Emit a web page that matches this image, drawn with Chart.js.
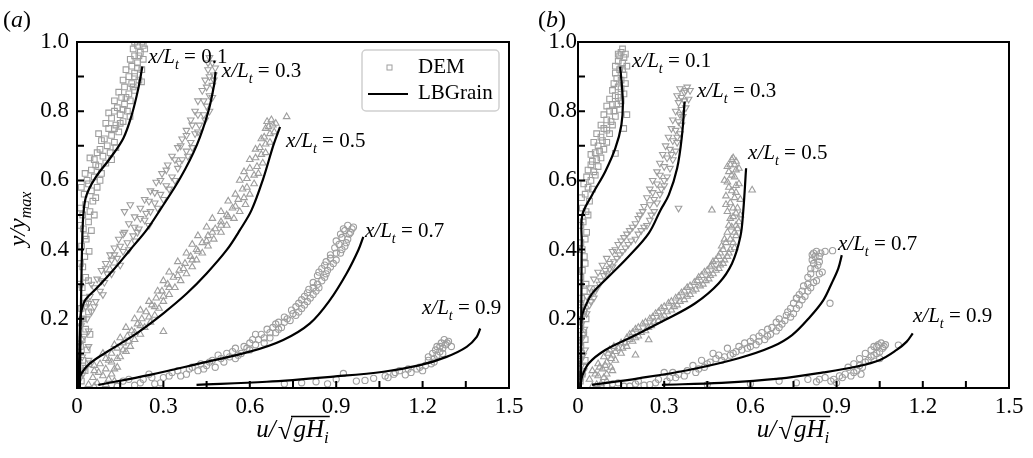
<!DOCTYPE html>
<html>
<head>
<meta charset="utf-8">
<script src="https://cdn.jsdelivr.net/npm/chart.js@4.4.1/dist/chart.umd.min.js"></script>
<style>
  body { margin: 0; background: #fff; }
  #wrap { position: relative; width: 1033px; height: 458px; }
  canvas { position: absolute; top: 0; }
  #chartA { left: 0; }
  #chartB { left: 516px; }
</style>
</head>
<body>
<div id="wrap">
  <canvas id="chartA" width="530" height="458" style="width:530px;height:458px"></canvas>
  <canvas id="chartB" width="517" height="458" style="width:517px;height:458px"></canvas>
</div>
<script>
// axis ticks
var xTickValues = [0, 0.3, 0.6, 0.9, 1.2, 1.5];
var xMinorValues = [0.15, 0.45, 0.75, 1.05, 1.35];
var yTickValues = [0, 0.2, 0.4, 0.6, 0.8, 1.0];
var yMinorValues = [0.1, 0.3, 0.5, 0.7, 0.9];

// stations x/L_t
var stations = ['0.1', '0.3', '0.5', '0.7', '0.9'];

// ---- panel (a): DEM points [u, y/ymax] ----
var demA01 = [[0.015,0.02],[0.028,0.05],[0.02,0.08],[0.035,0.11],[0.018,0.14],[0.03,0.17],[0.022,0.2],[0.014,0.23],[0.026,0.26],[0.018,0.29],[0.03,0.32],[0.02,0.35],[0.027,0.38],[0.016,0.41],[0.032,0.43],[0.022,0.46],[0.04,0.48],
  [0.02,0.5],[0.045,0.51],[0.03,0.53],[0.055,0.54],[0.025,0.56],[0.05,0.57],[0.07,0.58],[0.04,0.59],[0.06,0.61],[0.085,0.62],[0.05,0.63],
  [0.075,0.64],[0.1,0.65],[0.06,0.66],[0.09,0.67],[0.115,0.68],[0.08,0.69],[0.105,0.7],[0.13,0.71],[0.095,0.72],[0.12,0.73],[0.145,0.74],[0.11,0.75],
  [0.135,0.76],[0.16,0.77],[0.12,0.78],[0.15,0.79],[0.175,0.8],[0.14,0.81],[0.165,0.82],[0.185,0.83],[0.155,0.84],[0.18,0.85],[0.2,0.86],[0.165,0.87],[0.19,0.88],
  [0.215,0.89],[0.18,0.9],[0.2,0.91],[0.225,0.92],[0.19,0.93],[0.21,0.94],[0.23,0.95],[0.2,0.96],[0.22,0.97],[0.235,0.98],[0.21,0.99],[0.225,1.0],[0.184,0.785],[0.224,0.885],
  [0.01,0.04],[0.04,0.07],[0.012,0.12],[0.045,0.155],[0.01,0.19],[0.04,0.22],[0.03,0.245],[0.01,0.3],[0.04,0.31],[0.012,0.36],[0.042,0.395],[0.028,0.44],[0.05,0.455],[0.012,0.47],[0.06,0.5],[0.012,0.52],[0.065,0.55],[0.015,0.58],[0.035,0.6],[0.08,0.6],[0.028,0.62],[0.065,0.645],[0.045,0.665],[0.12,0.66],[0.07,0.68],[0.135,0.695],[0.085,0.715],[0.075,0.735],[0.13,0.75],[0.1,0.765],[0.15,0.765],[0.11,0.795],[0.13,0.8],[0.16,0.805],[0.13,0.83],[0.17,0.84],[0.145,0.855],[0.195,0.87],[0.16,0.89],[0.2,0.9],[0.17,0.92],[0.21,0.925],[0.185,0.95],[0.215,0.96],[0.195,0.98],[0.23,0.99],[0.2,1.0]];
var demA03 = [[0.012,0.03],[0.03,0.06],[0.018,0.09],[0.04,0.12],[0.025,0.15],[0.014,0.18],[0.035,0.2],[0.05,0.22],[0.03,0.235],[0.065,0.25],[0.045,0.265],[0.08,0.28],[0.06,0.29],[0.095,0.305],[0.07,0.315],[0.105,0.33],[0.085,0.34],[0.125,0.35],[0.1,0.36],[0.14,0.375],[0.115,0.385],[0.16,0.395],[0.13,0.405],[0.175,0.42],[0.145,0.43],[0.195,0.44],[0.165,0.45],[0.215,0.46],[0.18,0.475],[0.235,0.485],[0.2,0.495],[0.255,0.51],[0.22,0.52],[0.27,0.535],[0.235,0.545],[0.29,0.56],[0.255,0.57],[0.31,0.585],[0.275,0.595],[0.33,0.61],[0.295,0.62],[0.35,0.635],[0.315,0.645],[0.365,0.66],[0.33,0.67],[0.38,0.685],[0.35,0.695],[0.395,0.71],[0.365,0.72],[0.41,0.735],[0.38,0.745],[0.425,0.76],[0.395,0.775],[0.44,0.79],[0.41,0.8],[0.45,0.815],[0.42,0.83],[0.46,0.845],[0.435,0.86],[0.47,0.875],[0.445,0.89],[0.475,0.905],[0.455,0.92],[0.47,0.94],[0.46,0.955],[0.165,0.51],[0.185,0.53],
  [0.02,0.04],[0.04,0.08],[0.01,0.13],[0.04,0.165],[0.02,0.2],[0.06,0.235],[0.04,0.245],[0.09,0.27],[0.05,0.3],[0.085,0.31],[0.12,0.33],[0.1,0.345],[0.15,0.355],[0.12,0.37],[0.13,0.385],[0.18,0.4],[0.15,0.41],[0.2,0.425],[0.16,0.445],[0.21,0.45],[0.2,0.465],[0.25,0.47],[0.22,0.49],[0.24,0.505],[0.28,0.52],[0.25,0.54],[0.3,0.545],[0.27,0.565],[0.32,0.575],[0.29,0.6],[0.34,0.6],[0.31,0.63],[0.355,0.65],[0.34,0.66],[0.385,0.67],[0.36,0.7],[0.4,0.695],[0.38,0.73],[0.42,0.74],[0.4,0.76],[0.445,0.775],[0.42,0.79],[0.46,0.8],[0.44,0.83],[0.47,0.84],[0.45,0.87],[0.475,0.89],[0.46,0.9],[0.48,0.925],[0.455,0.94]];
var demA05 = [[0.04,0.01],[0.07,0.015],[0.1,0.01],[0.13,0.02],[0.055,0.03],[0.09,0.035],[0.12,0.04],[0.06,0.05],[0.1,0.055],[0.14,0.06],[0.08,0.07],[0.12,0.075],[0.1,0.085],[0.15,0.09],[0.12,0.1],[0.17,0.105],[0.14,0.115],[0.185,0.12],[0.16,0.13],[0.2,0.14],[0.175,0.15],[0.22,0.155],[0.19,0.165],[0.235,0.175],[0.21,0.185],[0.255,0.19],[0.225,0.2],[0.27,0.21],[0.24,0.22],[0.285,0.23],[0.26,0.24],[0.3,0.25],[0.275,0.26],[0.32,0.27],[0.295,0.28],[0.34,0.29],[0.315,0.3],[0.36,0.31],[0.335,0.32],[0.38,0.33],[0.355,0.34],[0.4,0.35],[0.375,0.36],[0.415,0.37],[0.395,0.38],[0.435,0.39],[0.415,0.4],[0.455,0.41],[0.435,0.42],[0.475,0.43],[0.455,0.44],[0.5,0.45],[0.48,0.46],[0.52,0.47],[0.5,0.48],[0.545,0.49],[0.52,0.5],[0.565,0.51],[0.54,0.52],[0.585,0.53],[0.56,0.545],[0.6,0.56],[0.575,0.575],[0.615,0.59],[0.59,0.605],[0.63,0.62],[0.6,0.635],[0.645,0.65],[0.62,0.665],[0.655,0.68],[0.635,0.695],[0.67,0.71],[0.65,0.725],[0.685,0.74],[0.665,0.755],[0.69,0.765],[0.675,0.775],[0.728,0.784],[0.3,0.163],
  [0.06,0.005],[0.11,0.025],[0.075,0.045],[0.13,0.055],[0.06,0.065],[0.11,0.08],[0.14,0.085],[0.09,0.1],[0.16,0.11],[0.13,0.125],[0.18,0.135],[0.15,0.145],[0.2,0.16],[0.17,0.175],[0.22,0.18],[0.2,0.2],[0.25,0.205],[0.22,0.225],[0.27,0.235],[0.25,0.25],[0.3,0.265],[0.28,0.28],[0.32,0.29],[0.3,0.31],[0.35,0.325],[0.32,0.335],[0.37,0.345],[0.35,0.365],[0.4,0.37],[0.38,0.39],[0.42,0.395],[0.4,0.415],[0.45,0.425],[0.42,0.44],[0.47,0.45],[0.45,0.465],[0.5,0.47],[0.47,0.49],[0.525,0.495],[0.5,0.51],[0.55,0.525],[0.525,0.54],[0.58,0.55],[0.55,0.56],[0.59,0.58],[0.565,0.6],[0.615,0.615],[0.58,0.625],[0.625,0.64],[0.6,0.66],[0.64,0.675],[0.62,0.69],[0.655,0.705],[0.64,0.72],[0.67,0.735],[0.655,0.75],[0.68,0.76],[0.66,0.77]];
var demA07 = [[0.12,0.01],[0.16,0.02],[0.2,0.008],[0.23,0.025],[0.27,0.012],[0.3,0.03],[0.25,0.04],[0.33,0.045],[0.36,0.035],[0.39,0.055],[0.42,0.05],[0.45,0.065],[0.48,0.06],[0.47,0.08],[0.51,0.075],[0.53,0.09],[0.55,0.085],[0.57,0.1],[0.54,0.105],[0.6,0.11],[0.58,0.12],[0.62,0.125],[0.65,0.13],[0.61,0.14],[0.67,0.145],[0.64,0.155],[0.69,0.16],[0.66,0.17],[0.71,0.175],[0.7,0.19],[0.74,0.195],[0.72,0.205],[0.76,0.21],[0.745,0.225],[0.78,0.23],[0.77,0.245],[0.8,0.25],[0.79,0.265],[0.82,0.27],[0.805,0.285],[0.84,0.29],[0.82,0.305],[0.85,0.31],[0.835,0.325],[0.865,0.33],[0.85,0.345],[0.88,0.35],[0.865,0.365],[0.9,0.37],[0.88,0.385],[0.915,0.39],[0.895,0.405],[0.93,0.41],[0.9,0.425],[0.94,0.43],[0.915,0.445],[0.95,0.45],[0.925,0.46],[0.96,0.465],[0.94,0.47],
  [0.14,0.005],[0.18,0.025],[0.22,0.015],[0.26,0.03],[0.29,0.015],[0.32,0.035],[0.35,0.05],[0.38,0.04],[0.4,0.06],[0.44,0.055],[0.43,0.07],[0.46,0.075],[0.5,0.085],[0.49,0.095],[0.52,0.1],[0.56,0.095],[0.55,0.115],[0.59,0.115],[0.6,0.13],[0.63,0.14],[0.65,0.145],[0.62,0.155],[0.67,0.16],[0.68,0.175],[0.7,0.17],[0.69,0.185],[0.72,0.19],[0.73,0.2],[0.75,0.215],[0.77,0.22],[0.76,0.235],[0.79,0.24],[0.78,0.255],[0.81,0.26],[0.8,0.275],[0.83,0.28],[0.82,0.29],[0.835,0.3],[0.86,0.32],[0.84,0.335],[0.87,0.34],[0.86,0.355],[0.89,0.36],[0.88,0.375],[0.9,0.39],[0.92,0.4],[0.91,0.415],[0.935,0.42],[0.92,0.435],[0.945,0.445],[0.93,0.455],[0.955,0.46]];
var demA09 = [[0.72,0.012],[0.78,0.015],[0.83,0.018],[0.87,0.012],[0.9,0.025],[0.925,0.042],[0.97,0.02],[1.0,0.022],[1.03,0.028],[1.07,0.035],[1.1,0.04],[1.12,0.05],[1.14,0.038],[1.16,0.045],[1.18,0.055],[1.2,0.05],[1.21,0.065],[1.23,0.07],[1.22,0.08],[1.24,0.085],[1.25,0.095],[1.235,0.1],[1.26,0.105],[1.27,0.115],[1.25,0.12],[1.28,0.125],[1.265,0.13],[1.29,0.135],[1.275,0.14],[1.3,0.12],
  [1.15,0.055],[1.19,0.06],[1.22,0.09],[1.245,0.11],[1.26,0.12],[1.285,0.13],[1.24,0.075],[1.27,0.1],[1.105,0.045],[1.08,0.03]];

// ---- panel (a): LBGrain profiles ----
var lbgA01 = [[0.01,0],[0.012,0.15],[0.015,0.3],[0.018,0.42],[0.022,0.5],[0.032,0.555],[0.0625,0.606],[0.115,0.664],[0.161,0.722],[0.19,0.789],[0.213,0.866],[0.227,0.929]];
var lbgA03 = [[0.005,0],[0.008,0.1],[0.011,0.19],[0.016,0.225],[0.03,0.256],[0.068,0.288],[0.126,0.341],[0.184,0.399],[0.242,0.457],[0.288,0.514],[0.358,0.606],[0.416,0.702],[0.456,0.799],[0.476,0.876],[0.481,0.914]];
var lbgA05 = [[0.005,0],[0.01,0.033],[0.045,0.071],[0.115,0.11],[0.207,0.158],[0.3,0.216],[0.381,0.273],[0.45,0.331],[0.52,0.399],[0.566,0.457],[0.606,0.514],[0.647,0.606],[0.682,0.702],[0.705,0.755]];
var lbgA07 = [[0.074,0.009],[0.253,0.038],[0.427,0.071],[0.6,0.105],[0.716,0.139],[0.809,0.187],[0.878,0.254],[0.936,0.331],[0.977,0.399],[0.994,0.437]];
var lbgA09 = [[0.415,0.009],[0.659,0.018],[0.89,0.033],[1.064,0.047],[1.191,0.066],[1.283,0.09],[1.353,0.119],[1.388,0.148],[1.4,0.172]];

// ---- panel (b): DEM points ----
var demB01 = [[0.008,0.02],[0.02,0.06],[0.012,0.1],[0.025,0.14],[0.01,0.18],[0.02,0.22],[0.012,0.26],[0.028,0.3],[0.015,0.34],[0.022,0.38],[0.01,0.42],[0.03,0.45],[0.018,0.48],[0.035,0.5],[0.015,0.52],[0.04,0.54],[0.025,0.56],[0.05,0.575],[0.02,0.59],[0.045,0.6],[0.06,0.615],[0.035,0.63],[0.07,0.64],[0.05,0.655],[0.08,0.665],[0.06,0.68],[0.09,0.69],[0.07,0.7],[0.1,0.71],[0.08,0.725],[0.11,0.735],[0.09,0.75],[0.12,0.76],[0.1,0.775],[0.13,0.785],[0.11,0.8],[0.145,0.805],[0.12,0.82],[0.15,0.83],[0.13,0.845],[0.16,0.85],[0.14,0.87],[0.165,0.88],[0.135,0.895],[0.16,0.905],[0.145,0.92],[0.17,0.93],[0.14,0.945],[0.16,0.955],[0.15,0.97],[0.14,0.965],[0.159,0.75],[0.13,0.678],[0.17,0.79],
  [0.015,0.04],[0.025,0.08],[0.01,0.12],[0.02,0.16],[0.028,0.2],[0.01,0.24],[0.022,0.28],[0.01,0.32],[0.025,0.36],[0.015,0.4],[0.025,0.43],[0.01,0.47],[0.028,0.51],[0.012,0.55],[0.035,0.58],[0.03,0.61],[0.055,0.625],[0.045,0.645],[0.065,0.66],[0.045,0.675],[0.075,0.685],[0.055,0.71],[0.085,0.715],[0.065,0.735],[0.1,0.745],[0.08,0.76],[0.115,0.77],[0.09,0.79],[0.125,0.8],[0.1,0.815],[0.135,0.82],[0.11,0.835],[0.14,0.84],[0.12,0.86],[0.15,0.865],[0.125,0.88],[0.15,0.89],[0.13,0.91],[0.155,0.92],[0.13,0.93],[0.155,0.94],[0.145,0.96],[0.165,0.965],[0.155,0.98]];
var demB03 = [[0.008,0.02],[0.02,0.05],[0.01,0.08],[0.025,0.11],[0.012,0.14],[0.022,0.17],[0.01,0.2],[0.03,0.215],[0.018,0.235],[0.045,0.25],[0.03,0.265],[0.06,0.28],[0.04,0.29],[0.075,0.3],[0.055,0.315],[0.09,0.325],[0.07,0.335],[0.11,0.345],[0.085,0.355],[0.125,0.365],[0.1,0.375],[0.145,0.385],[0.12,0.395],[0.165,0.405],[0.14,0.415],[0.185,0.425],[0.16,0.435],[0.21,0.445],[0.18,0.455],[0.23,0.465],[0.2,0.475],[0.25,0.485],[0.215,0.5],[0.265,0.51],[0.23,0.525],[0.275,0.535],[0.24,0.55],[0.285,0.56],[0.25,0.575],[0.3,0.585],[0.26,0.6],[0.31,0.61],[0.275,0.625],[0.32,0.635],[0.285,0.65],[0.33,0.66],[0.295,0.675],[0.34,0.685],[0.305,0.7],[0.345,0.71],[0.315,0.725],[0.355,0.735],[0.325,0.75],[0.36,0.76],[0.33,0.775],[0.365,0.785],[0.34,0.8],[0.375,0.81],[0.35,0.825],[0.385,0.835],[0.345,0.845],[0.37,0.855],[0.39,0.86],[0.355,0.865],[0.38,0.87],[0.35,0.52],
  [0.015,0.035],[0.012,0.065],[0.018,0.095],[0.008,0.125],[0.018,0.155],[0.012,0.185],[0.025,0.225],[0.04,0.24],[0.055,0.26],[0.05,0.275],[0.065,0.29],[0.08,0.31],[0.1,0.33],[0.095,0.34],[0.12,0.35],[0.11,0.36],[0.135,0.375],[0.155,0.395],[0.13,0.4],[0.175,0.415],[0.15,0.425],[0.2,0.43],[0.17,0.445],[0.22,0.455],[0.19,0.465],[0.24,0.47],[0.21,0.49],[0.255,0.5],[0.225,0.51],[0.25,0.53],[0.265,0.545],[0.26,0.565],[0.29,0.575],[0.275,0.59],[0.3,0.6],[0.285,0.615],[0.3,0.64],[0.31,0.665],[0.325,0.675],[0.32,0.69],[0.33,0.715],[0.345,0.725],[0.34,0.745],[0.35,0.77],[0.355,0.79],[0.36,0.805],[0.37,0.83],[0.36,0.84],[0.375,0.86]];
var demB05 = [[0.05,0.005],[0.08,0.012],[0.1,0.02],[0.04,0.025],[0.07,0.035],[0.1,0.04],[0.05,0.05],[0.085,0.055],[0.115,0.06],[0.07,0.07],[0.1,0.075],[0.13,0.08],[0.09,0.09],[0.12,0.095],[0.15,0.1],[0.11,0.11],[0.14,0.115],[0.17,0.12],[0.15,0.13],[0.19,0.135],[0.17,0.145],[0.21,0.15],[0.19,0.16],[0.235,0.165],[0.21,0.175],[0.255,0.18],[0.235,0.19],[0.28,0.195],[0.26,0.205],[0.3,0.21],[0.28,0.22],[0.325,0.225],[0.3,0.235],[0.345,0.24],[0.325,0.25],[0.37,0.255],[0.35,0.265],[0.39,0.27],[0.37,0.28],[0.41,0.285],[0.39,0.295],[0.435,0.3],[0.415,0.31],[0.455,0.315],[0.43,0.325],[0.47,0.33],[0.45,0.34],[0.49,0.345],[0.465,0.355],[0.505,0.36],[0.48,0.37],[0.52,0.38],[0.495,0.39],[0.53,0.4],[0.5,0.41],[0.54,0.42],[0.51,0.43],[0.55,0.44],[0.52,0.45],[0.555,0.46],[0.525,0.47],[0.56,0.48],[0.53,0.49],[0.565,0.5],[0.52,0.51],[0.555,0.52],[0.53,0.535],[0.565,0.545],[0.515,0.555],[0.55,0.565],[0.525,0.58],[0.56,0.59],[0.51,0.6],[0.545,0.61],[0.525,0.625],[0.56,0.635],[0.53,0.645],[0.55,0.655],[0.54,0.665],[0.606,0.572],[0.466,0.514],[0.2,0.095],[0.246,0.139],
  [0.065,0.01],[0.09,0.03],[0.06,0.04],[0.12,0.05],[0.075,0.06],[0.095,0.065],[0.115,0.085],[0.105,0.1],[0.13,0.105],[0.155,0.115],[0.125,0.12],[0.165,0.13],[0.18,0.14],[0.2,0.145],[0.18,0.155],[0.22,0.16],[0.2,0.17],[0.245,0.175],[0.225,0.185],[0.265,0.19],[0.25,0.2],[0.29,0.205],[0.27,0.215],[0.31,0.22],[0.29,0.23],[0.335,0.235],[0.315,0.245],[0.355,0.25],[0.34,0.26],[0.38,0.265],[0.36,0.275],[0.4,0.28],[0.38,0.29],[0.425,0.295],[0.405,0.305],[0.445,0.31],[0.42,0.32],[0.46,0.325],[0.44,0.335],[0.48,0.34],[0.46,0.35],[0.495,0.355],[0.47,0.365],[0.51,0.37],[0.49,0.38],[0.525,0.39],[0.505,0.4],[0.545,0.405],[0.515,0.42],[0.53,0.43],[0.545,0.45],[0.535,0.465],[0.55,0.47],[0.54,0.495],[0.55,0.505],[0.54,0.52],[0.515,0.53],[0.545,0.55],[0.535,0.57],[0.55,0.585],[0.52,0.595],[0.535,0.615],[0.55,0.63],[0.52,0.64],[0.545,0.645],[0.535,0.66]];
var demB07 = [[0.1,0.008],[0.14,0.015],[0.18,0.005],[0.21,0.02],[0.25,0.01],[0.28,0.025],[0.32,0.03],[0.35,0.04],[0.3,0.045],[0.38,0.05],[0.42,0.055],[0.4,0.065],[0.45,0.07],[0.43,0.08],[0.48,0.085],[0.51,0.09],[0.47,0.1],[0.54,0.1],[0.57,0.11],[0.52,0.115],[0.6,0.12],[0.58,0.13],[0.63,0.135],[0.61,0.145],[0.66,0.15],[0.64,0.16],[0.69,0.165],[0.675,0.175],[0.71,0.185],[0.7,0.2],[0.74,0.205],[0.73,0.22],[0.76,0.23],[0.75,0.245],[0.78,0.255],[0.77,0.27],[0.8,0.28],[0.785,0.295],[0.82,0.305],[0.8,0.32],[0.84,0.33],[0.81,0.345],[0.835,0.355],[0.815,0.37],[0.84,0.38],[0.82,0.39],[0.83,0.395],[0.86,0.395],[0.886,0.397],[0.761,0.259],[0.877,0.245],
  [0.12,0.012],[0.16,0.005],[0.2,0.012],[0.23,0.008],[0.27,0.015],[0.31,0.02],[0.34,0.03],[0.37,0.035],[0.33,0.045],[0.41,0.045],[0.44,0.06],[0.46,0.075],[0.5,0.08],[0.49,0.095],[0.53,0.095],[0.55,0.105],[0.56,0.12],[0.59,0.115],[0.62,0.125],[0.6,0.135],[0.65,0.14],[0.63,0.15],[0.67,0.155],[0.66,0.17],[0.7,0.175],[0.69,0.19],[0.72,0.195],[0.725,0.21],[0.75,0.215],[0.74,0.23],[0.77,0.24],[0.76,0.26],[0.79,0.265],[0.78,0.28],[0.81,0.29],[0.8,0.3],[0.83,0.31],[0.81,0.33],[0.85,0.335],[0.825,0.345],[0.82,0.36],[0.84,0.365],[0.825,0.38],[0.845,0.39],[0.815,0.385]];
var demB09 = [[0.45,0.01],[0.6,0.012],[0.7,0.02],[0.76,0.015],[0.8,0.025],[0.83,0.018],[0.86,0.03],[0.89,0.025],[0.91,0.035],[0.93,0.04],[0.95,0.035],[0.97,0.05],[0.94,0.06],[0.99,0.06],[0.96,0.07],[1.0,0.075],[0.98,0.085],[1.02,0.09],[1.0,0.1],[1.04,0.1],[1.02,0.11],[1.06,0.115],[1.04,0.12],[1.055,0.13],[1.07,0.125],[1.115,0.124],[1.05,0.085],
  [0.88,0.02],[0.92,0.03],[0.96,0.045],[0.98,0.065],[1.01,0.08],[1.03,0.095],[1.05,0.105],[1.03,0.12],[1.065,0.12],[1.045,0.125],[0.9,0.015],[0.84,0.025],[0.985,0.04]];

// ---- panel (b): LBGrain profiles ----
var lbgB01 = [[0.01,0],[0.011,0.15],[0.012,0.3],[0.013,0.42],[0.015,0.5],[0.049,0.558],[0.095,0.626],[0.13,0.693],[0.151,0.76],[0.156,0.828],[0.147,0.929]];
var lbgB03 = [[0.008,0],[0.01,0.1],[0.012,0.197],[0.02,0.225],[0.049,0.273],[0.107,0.322],[0.176,0.38],[0.246,0.447],[0.287,0.514],[0.316,0.558],[0.345,0.635],[0.362,0.731],[0.371,0.828]];
var lbgB05 = [[0.008,0],[0.014,0.033],[0.037,0.071],[0.095,0.11],[0.188,0.148],[0.304,0.197],[0.408,0.245],[0.49,0.303],[0.536,0.36],[0.565,0.437],[0.575,0.51],[0.585,0.635]];
var lbgB07 = [[0.049,0.009],[0.211,0.028],[0.385,0.052],[0.559,0.086],[0.675,0.119],[0.745,0.153],[0.808,0.206],[0.854,0.254],[0.883,0.303],[0.906,0.346],[0.918,0.384]];
var lbgB09 = [[0.292,0.009],[0.5,0.015],[0.7,0.027],[0.854,0.045],[0.97,0.062],[1.051,0.081],[1.109,0.11],[1.144,0.134],[1.165,0.158]];

// where the x/L_t labels sit (data coords: left edge, baseline)
var notesA = [[0.247,0.939],[0.503,0.899],[0.726,0.697],[1.0,0.436],[1.198,0.214]];
var notesB = [[0.188,0.928],[0.414,0.841],[0.592,0.662],[0.905,0.399],[1.166,0.191]];

var serif = "'Liberation Serif', 'Times New Roman', serif";
var gray = '#9e9e9e';
var markerStyles = ['rect', 'triangle', 'triangle', 'circle', 'circle'];
var markerRot = [0, 180, 0, 0, 0];
var markerSize = [4, 3.8, 3.8, 3.1, 3.1];

function font(size, italic) {
  return (italic ? 'italic ' : '') + size + 'px ' + serif;
}

// draw text pieces [text, italic, subscript, gapAfter] one after another
function runs(ctx, x, y, parts, measureOnly, big) {
  var cx = x;
  big = big || 21;
  parts.forEach(function (p) {
    ctx.font = font(p[2] ? Math.round(big * 0.67) : big, p[1]);
    if (!measureOnly) ctx.fillText(p[0], cx, y + (p[2] ? 6 : 0));
    cx += ctx.measureText(p[0]).width + (p[3] || 0);
  });
  return cx - x;
}

function toXY(arr) {
  return arr.map(function (p) { return { x: p[0], y: p[1] }; });
}

function decor(panel) {
  return {
    id: 'decor',
    afterDatasetsDraw: function (chart) {
      var ctx = chart.ctx, a = chart.chartArea;
      var xs = chart.scales.x, ys = chart.scales.y;
      ctx.save();
      ctx.strokeStyle = '#000';
      ctx.lineWidth = 2;
      ctx.strokeRect(a.left, a.top, a.right - a.left, a.bottom - a.top);
      ctx.beginPath();
      xTickValues.concat(xMinorValues).forEach(function (v) {
        var px = xs.getPixelForValue(v);
        ctx.moveTo(px, a.bottom);
        ctx.lineTo(px, a.bottom - 7);
      });
      yTickValues.concat(yMinorValues).forEach(function (v) {
        var py = ys.getPixelForValue(v);
        ctx.moveTo(a.left, py);
        ctx.lineTo(a.left + 7, py);
      });
      ctx.stroke();
      ctx.restore();
    },
    afterDraw: function (chart) {
      var ctx = chart.ctx, a = chart.chartArea;
      var xs = chart.scales.x, ys = chart.scales.y;
      ctx.save();
      ctx.fillStyle = '#000';
      ctx.textBaseline = 'alphabetic';
      ctx.textAlign = 'left';

      // x/L_t labels
      panel.notes.forEach(function (n, i) {
        runs(ctx, xs.getPixelForValue(n[0]), ys.getPixelForValue(n[1]),
          [['x/L', true], ['t', true, true], [' = ' + stations[i], false]]);
      });

      // panel tag
      runs(ctx, panel.tagX, 27, [['(', false], [panel.tag, true], [')', false]], false, 24);

      // x axis title: u / sqrt(g H_i)
      var cx = (a.left + a.right) / 2, base = 437;
      var pre = [['u/', true, false, 2]];
      var rad = [['gH', true], ['i', true, true]];
      var wPre = runs(ctx, 0, 0, pre, true, 25);
      ctx.font = font(27, false);
      var wRoot = ctx.measureText('\u221A').width;
      var wRad = runs(ctx, 0, 0, rad, true, 25) + 2;
      var x0 = cx - (wPre + wRoot + wRad) / 2;
      runs(ctx, x0, base, pre, false, 25);
      ctx.font = font(27, false);
      ctx.fillText('\u221A', x0 + wPre, base + 2);
      runs(ctx, x0 + wPre + wRoot + 1, base, rad, false, 25);
      ctx.strokeStyle = '#000';
      ctx.lineWidth = 1.3;
      ctx.beginPath();
      ctx.moveTo(x0 + wPre + wRoot - 1.5, base - 20.5);
      ctx.lineTo(x0 + wPre + wRoot + wRad, base - 20.5);
      ctx.stroke();

      // y axis title
      if (panel.yTitle) {
        var py = [['y/y', true], ['max', true, true]];
        var wy = runs(ctx, 0, 0, py, true, 24);
        ctx.save();
        ctx.translate(25, (a.top + a.bottom) / 2 + 4);
        ctx.rotate(-Math.PI / 2);
        runs(ctx, -wy / 2, 0, py, false, 24);
        ctx.restore();
      }

      // legend
      if (panel.legend) {
        var lx = a.right - 147, ly = a.top + 8, lw = 137, lh = 61;
        ctx.fillStyle = '#fff';
        ctx.strokeStyle = '#cfcfcf';
        ctx.lineWidth = 1.5;
        ctx.beginPath();
        ctx.roundRect(lx, ly, lw, lh, 4);
        ctx.fill();
        ctx.stroke();
        ctx.strokeStyle = gray;
        ctx.lineWidth = 1;
        ctx.strokeRect(lx + 25, ly + 15, 5, 5);
        ctx.strokeStyle = '#000';
        ctx.lineWidth = 2.2;
        ctx.beginPath();
        ctx.moveTo(lx + 6, ly + 44);
        ctx.lineTo(lx + 46, ly + 44);
        ctx.stroke();
        ctx.fillStyle = '#000';
        ctx.textBaseline = 'middle';
        ctx.font = font(21, false);
        ctx.fillText('DEM', lx + 56, ly + 17);
        ctx.fillText('LBGrain', lx + 56, ly + 43);
      }
      ctx.restore();
    }
  };
}

function makeChart(panel) {
  var datasets = [];
  panel.lbg.forEach(function (arr, i) {
    datasets.push({
      label: 'LBGrain ' + stations[i],
      data: toXY(arr),
      showLine: true,
      borderColor: '#000',
      borderWidth: 2.2,
      pointRadius: 0,
      tension: 0.35,
      order: 0
    });
  });
  panel.dem.forEach(function (arr, i) {
    datasets.push({
      label: 'DEM ' + stations[i],
      data: toXY(arr),
      showLine: false,
      pointStyle: markerStyles[i],
      rotation: markerRot[i],
      pointRadius: markerSize[i],
      borderWidth: 1.1,
      borderColor: gray,
      backgroundColor: 'rgba(0,0,0,0)',
      order: 1
    });
  });

  new Chart(document.getElementById(panel.canvas), {
    type: 'scatter',
    data: { datasets: datasets },
    options: {
      responsive: false,
      animation: false,
      layout: { padding: { left: 0, right: panel.padRight, top: 42, bottom: 0 } },
      plugins: { legend: { display: false }, tooltip: { enabled: false } },
      scales: {
        x: {
          type: 'linear', min: 0, max: 1.5,
          grid: { display: false, drawTicks: false },
          border: { display: false },
          afterBuildTicks: function (s) { s.ticks = xTickValues.map(function (v) { return { value: v }; }); },
          afterFit: function (s) { s.height = 70; },
          ticks: {
            color: '#000', padding: 5, maxRotation: 0, autoSkip: false,
            font: { family: serif, size: 23 },
            callback: function (v) { return v === 0 ? '0' : v.toFixed(1); }
          }
        },
        y: {
          type: 'linear', min: 0, max: 1,
          grid: { display: false, drawTicks: false },
          border: { display: false },
          afterBuildTicks: function (s) { s.ticks = yTickValues.map(function (v) { return { value: v }; }); },
          afterFit: function (s) { s.width = panel.yWidth; },
          ticks: {
            color: '#000', padding: panel.yPad, autoSkip: false,
            font: { family: serif, size: 23 },
            callback: function (v) { return v === 0 ? '' : v.toFixed(1); }
          }
        }
      }
    },
    plugins: [decor(panel)]
  });
}

makeChart({
  canvas: 'chartA', tag: 'a', tagX: 3,
  dem: [demA01, demA03, demA05, demA07, demA09],
  lbg: [lbgA01, lbgA03, lbgA05, lbgA07, lbgA09],
  notes: notesA, yTitle: true, legend: true,
  yWidth: 77, yPad: 8, padRight: 21
});
makeChart({
  canvas: 'chartB', tag: 'b', tagX: 22,
  dem: [demB01, demB03, demB05, demB07, demB09],
  lbg: [lbgB01, lbgB03, lbgB05, lbgB07, lbgB09],
  notes: notesB, yTitle: false, legend: false,
  yWidth: 62, yPad: 1, padRight: 24
});
</script>
</body>
</html>
